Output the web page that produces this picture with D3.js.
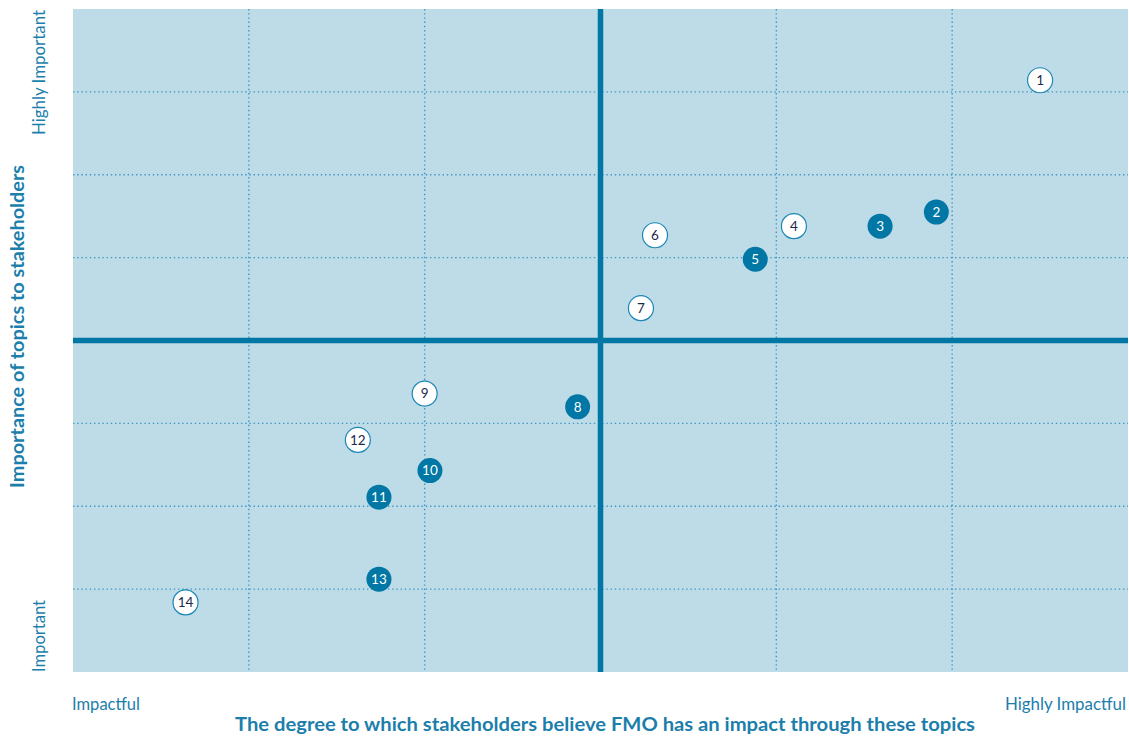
<!DOCTYPE html>
<html>
<head>
<meta charset="utf-8">
<script src="https://cdn.jsdelivr.net/npm/d3@7"></script>
<style>
  html, body { margin: 0; padding: 0; background: #fff; }
  svg { display: block; }
  text { font-family: Lato, "Open Sans", sans-serif; }
</style>
</head>
<body>
<svg id="chart" width="1129" height="738"></svg>
<script>
// Data
const topicIds   = [1, 2, 3, 4, 5, 6, 7, 8, 9, 10, 11, 12, 13, 14];
const impact     = [5.50, 4.91, 4.59, 4.10, 3.88, 3.31, 3.23, 2.87, 2.00, 2.03, 1.74, 1.62, 1.74, 0.64];
const importance = [7.14, 5.55, 5.38, 5.38, 4.98, 5.27, 4.39, 3.20, 3.36, 2.43, 2.11, 2.80, 1.12, 0.84];
const highlighted = [false, true, true, false, true, false, false, true, false, true, true, false, true, false];
const xGridTicks = [1, 2, 4, 5];
const yGridTicks = [1, 2, 3, 5, 6, 7];
const xMid = 3, yMid = 4;
const xDomain = [0, 6], yDomain = [0, 8];
const xLabels = ["Impactful", "Highly Impactful"];
const yLabels = ["Important", "Highly Important"];
const xTitle = "The degree to which stakeholders believe FMO has an impact through these topics";
const yTitle = "Importance of topics to stakeholders";

const points = topicIds.map((id, i) => ({ id, x: impact[i], y: importance[i], hl: highlighted[i] }));

const dark = "#0077a5";
const textBlue = "#1b7eab";
const svg = d3.select("#chart");
const L = 73, R = 1128, T = 9, B = 672;
const x = d3.scaleLinear().domain(xDomain).range([L, R]);
const y = d3.scaleLinear().domain(yDomain).range([B, T]);

svg.append("rect").attr("x", L).attr("y", T).attr("width", R - L).attr("height", B - T).attr("fill", "#bedbe8");

const grid = svg.append("g").attr("stroke", "#3f97c3").attr("stroke-width", 1.4).attr("stroke-dasharray", "1.4,2.8");
grid.selectAll(".vx").data(xGridTicks).join("line")
  .attr("x1", d => x(d)).attr("x2", d => x(d)).attr("y1", T).attr("y2", B);
grid.selectAll(".hy").data(yGridTicks).join("line")
  .attr("y1", d => y(d)).attr("y2", d => y(d)).attr("x1", L).attr("x2", R);

svg.append("line").attr("x1", x(xMid)).attr("x2", x(xMid)).attr("y1", T).attr("y2", B)
  .attr("stroke", dark).attr("stroke-width", 5.5);
svg.append("line").attr("x1", L).attr("x2", R).attr("y1", y(yMid)).attr("y2", y(yMid))
  .attr("stroke", dark).attr("stroke-width", 5.5);

const g = svg.selectAll(".pt").data(points).join("g")
  .attr("transform", d => `translate(${x(d.x)},${y(d.y)})`);
g.append("circle").attr("r", 12.5)
  .attr("fill", d => d.hl ? dark : "#ffffff")
  .attr("stroke", d => d.hl ? "none" : "#1a86b5")
  .attr("stroke-width", 1.2);
g.append("text").text(d => d.id)
  .attr("text-anchor", "middle").attr("dy", "0.36em")
  .attr("font-size", 13.5)
  .attr("fill", d => d.hl ? "#ffffff" : "#1c2a4a");

// Axis labels
svg.append("text").attr("x", L - 1).attr("y", 710).text(xLabels[0])
  .attr("font-size", 16.5).attr("fill", textBlue)
  .attr("textLength", 68).attr("lengthAdjust", "spacingAndGlyphs");
svg.append("text").attr("x", 1005).attr("y", 710).text(xLabels[1])
  .attr("font-size", 16.5).attr("fill", textBlue)
  .attr("textLength", 121).attr("lengthAdjust", "spacingAndGlyphs");
svg.append("text").attr("x", 235).attr("y", 731).text(xTitle)
  .attr("font-size", 18.5).attr("font-weight", "bold").attr("fill", textBlue)
  .attr("textLength", 740).attr("lengthAdjust", "spacingAndGlyphs");

svg.append("text").attr("transform", `translate(45,${B}) rotate(-90)`).text(yLabels[0])
  .attr("font-size", 16.5).attr("fill", textBlue)
  .attr("textLength", 72).attr("lengthAdjust", "spacingAndGlyphs");
svg.append("text").attr("transform", `translate(45,135) rotate(-90)`).text(yLabels[1])
  .attr("font-size", 16.5).attr("fill", textBlue)
  .attr("textLength", 125).attr("lengthAdjust", "spacingAndGlyphs");
svg.append("text").attr("transform", `translate(24,488) rotate(-90)`).text(yTitle)
  .attr("font-size", 18.5).attr("font-weight", "bold").attr("fill", textBlue)
  .attr("textLength", 323).attr("lengthAdjust", "spacingAndGlyphs");
</script>
</body>
</html>
